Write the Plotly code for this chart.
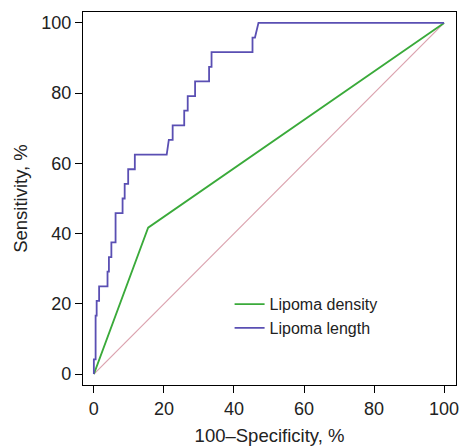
import plotly.graph_objects as go

# ROC data (percent)
length_fpr = [0, 0, 0.5, 0.5, 0.8, 0.8, 1.5, 1.5, 3.9, 3.9, 4.3, 4.3, 5.0, 5.0, 6.2, 6.2,
              8.2, 8.2, 8.8, 8.8, 9.8, 9.8, 11.7, 11.7, 20.8, 21.4, 22.5, 22.5, 25.8, 25.8,
              26.8, 26.8, 28.9, 28.9, 32.9, 32.9, 33.6, 33.6, 45.3, 45.3, 46.0, 47.0, 100]
length_tpr = [0, 4.17, 4.17, 16.67, 16.67, 20.83, 20.83, 25.0, 25.0, 29.17, 29.17, 33.33,
              33.33, 37.5, 37.5, 45.83, 45.83, 50.0, 50.0, 54.17, 54.17, 58.33, 58.33, 62.5,
              62.5, 66.67, 66.67, 70.83, 70.83, 75.0, 75.0, 79.17, 79.17, 83.33, 83.33, 87.5,
              87.5, 91.67, 91.67, 95.83, 95.83, 100, 100]
density_fpr = [0, 15.5, 100]
density_tpr = [0, 41.7, 100]
ref_line = [0, 100]
tick_vals = [0, 20, 40, 60, 80, 100]

FONT = "Liberation Sans, Arial, Helvetica, sans-serif"

fig = go.Figure()
fig.add_trace(go.Scatter(x=ref_line, y=ref_line, mode="lines",
                         line=dict(color="#dba2ae", width=1.2), showlegend=False,
                         hoverinfo="skip"))
fig.add_trace(go.Scatter(x=density_fpr, y=density_tpr, mode="lines", name="Lipoma density",
                         line=dict(color="#3aaa3a", width=1.8)))
fig.add_trace(go.Scatter(x=length_fpr, y=length_tpr, mode="lines", name="Lipoma length",
                         line=dict(color="#5a4fb3", width=1.8)))

axis_common = dict(
    showline=True, linecolor="black", linewidth=1.2, mirror=True,
    ticks="outside", ticklen=7, tickwidth=1, tickcolor="black",
    showgrid=False, zeroline=False, tickvals=tick_vals, automargin=False,
    tickfont=dict(family=FONT, size=18, color="#222"),
)

fig.update_layout(
    width=461, height=446,
    margin=dict(l=83, r=5, t=12, b=61),
    paper_bgcolor="white", plot_bgcolor="white",
    font=dict(family=FONT, size=18, color="#222"),
    xaxis=dict(range=[-3.1, 103.4], title=dict(text="100–Specificity, %", standoff=12,
               font=dict(size=18.5)), **axis_common),
    yaxis=dict(range=[-3.1, 103.1], title=dict(text="Sensitivity, %", standoff=8,
               font=dict(size=18.5)), **axis_common),
    legend=dict(x=0.393, y=0.262, xanchor="left", yanchor="top",
                bgcolor="rgba(0,0,0,0)", font=dict(family=FONT, size=16, color="#222"),
                tracegroupgap=0, itemwidth=30),
)

fig.write_html("out.html", config={"displayModeBar": False},
               post_script="document.body.style.margin='0';document.body.style.padding='0';")
